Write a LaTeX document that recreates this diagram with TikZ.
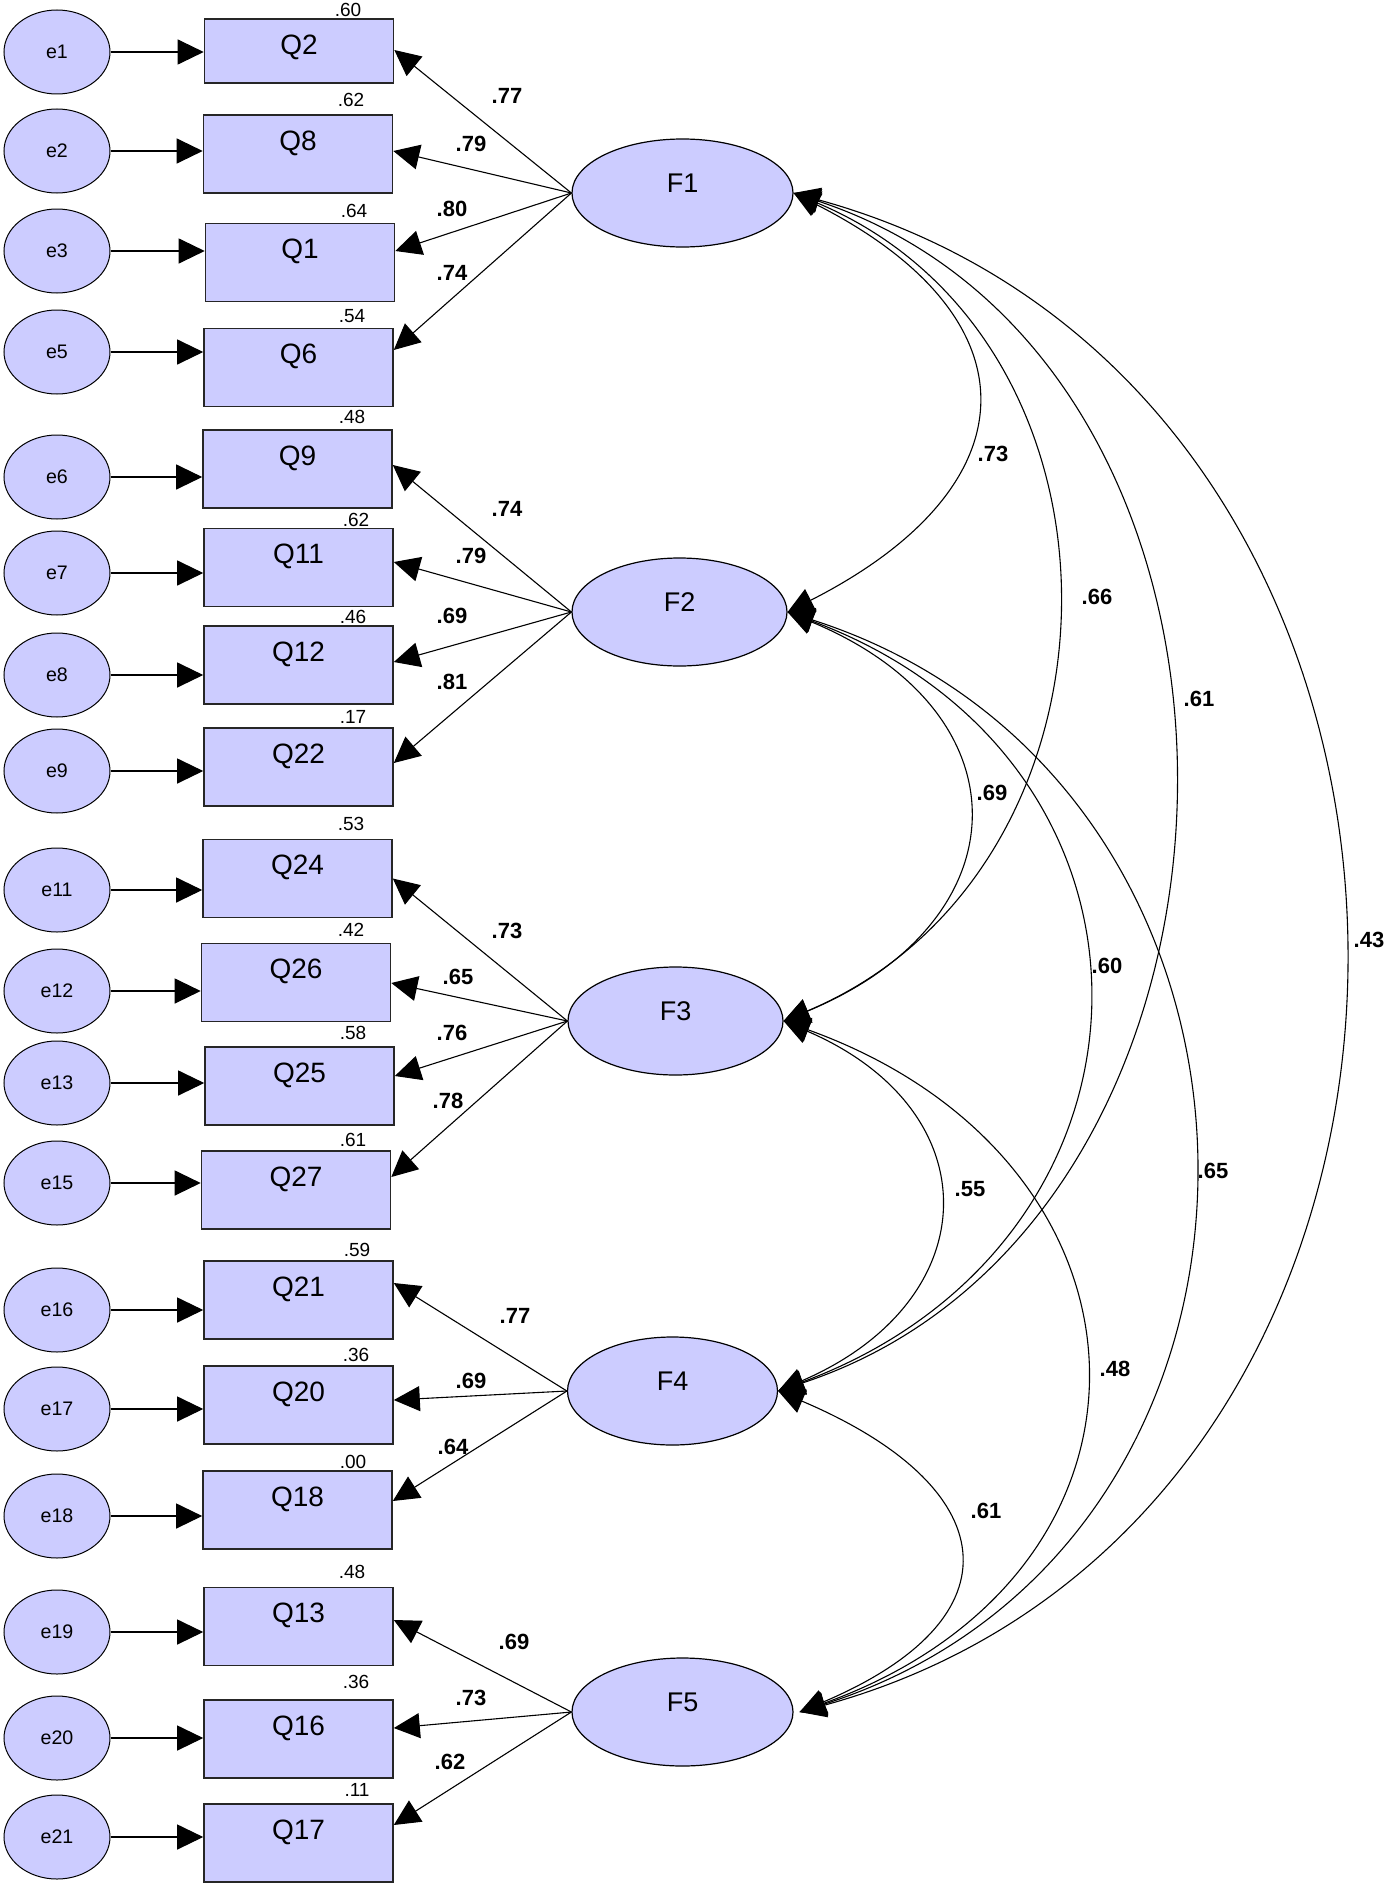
\documentclass[tikz,border=0pt]{standalone}
\usepackage{fontspec}
\setmainfont{Liberation Sans}
\usetikzlibrary{shapes.geometric,arrows.meta}
\definecolor{lav}{RGB}{204,204,255}
\begin{document}
\begin{tikzpicture}[x=0.5pt,y=-0.5pt,
  qbox/.style={draw=black!85,line width=0.8pt,fill=lav,minimum width=94.5pt,minimum height=39pt,inner sep=0pt},
  qtext/.style={font=\fontsize{14}{14}\selectfont,inner sep=0pt},
  errell/.style={ellipse,draw,line width=0.5pt,fill=lav,minimum width=53pt,minimum height=42pt,inner sep=0pt,font=\fontsize{9.8}{10}\selectfont},
  fell/.style={ellipse,draw,line width=0.6pt,fill=lav,minimum height=54pt,inner sep=0pt},
  ftext/.style={font=\fontsize{13.5}{14}\selectfont,inner sep=0pt},
  rsq/.style={font=\fontsize{9.5}{10}\selectfont,inner sep=0pt},
  coef/.style={font=\bfseries\fontsize{11}{11}\selectfont,inner sep=0pt},
  arr/.style={line width=0.55pt,-{Triangle[length=13pt,width=12.5pt]}},
  cov/.style={line width=0.55pt,{Triangle[length=13pt,width=12.5pt]}-{Triangle[length=13pt,width=12.5pt]}}
]
\useasboundingbox (0,0) rectangle (1392,1884);

% observed variables
\node[qbox,minimum height=32pt] (Q2) at (299,51) {};
\node[qbox] (Q8)  at (298,154) {};
\node[qbox] (Q1)  at (300,262.5) {};
\node[qbox] (Q6)  at (298.5,367.5) {};
\node[qbox] (Q9)  at (297.5,469) {};
\node[qbox] (Q11) at (298.5,567.5) {};
\node[qbox] (Q12) at (298.5,665) {};
\node[qbox] (Q22) at (298.5,767) {};
\node[qbox] (Q24) at (297.5,878.5) {};
\node[qbox] (Q26) at (296,982.5) {};
\node[qbox] (Q25) at (299.5,1086) {};
\node[qbox] (Q27) at (296,1190) {};
\node[qbox] (Q21) at (298.5,1300) {};
\node[qbox] (Q20) at (298.5,1405) {};
\node[qbox] (Q18) at (297.5,1510) {};
\node[qbox] (Q13) at (298.5,1626.5) {};
\node[qbox] (Q16) at (298.5,1739) {};
\node[qbox] (Q17) at (298.5,1843) {};

\foreach \q in {Q2,Q8,Q1,Q6,Q9,Q11,Q12,Q22,Q24,Q26,Q25,Q27,Q21,Q20,Q18,Q13,Q16,Q17}
  \node[qtext] (\q t) at ([yshift=-14.5pt]\q.north) {\q};

% squared multiple correlations
\node[rsq] (r2)  at (348,10) {.60};
\node[rsq] (r8)  at (351,100) {.62};
\node[rsq] (r1)  at (354,211) {.64};
\node[rsq] (r6)  at (352,316) {.54};
\node[rsq] (r9)  at (352,417) {.48};
\node[rsq] (r11) at (356,520) {.62};
\node[rsq] (r12) at (353,617) {.46};
\node[rsq] (r22) at (353,717) {.17};
\node[rsq] (r24) at (351,824) {.53};
\node[rsq] (r26) at (351,930) {.42};
\node[rsq] (r25) at (353,1033) {.58};
\node[rsq] (r27) at (353,1140) {.61};
\node[rsq] (r21) at (357,1250) {.59};
\node[rsq] (r20) at (356,1355) {.36};
\node[rsq] (r18) at (353,1462) {.00};
\node[rsq] (r13) at (352,1572) {.48};
\node[rsq] (r16) at (356,1682) {.36};
\node[rsq] (r17) at (357,1790) {.11};

% error terms
\node[errell] (e1)  at (57,52) {e1};
\node[errell] (e2)  at (57,151) {e2};
\node[errell] (e3)  at (57,251) {e3};
\node[errell] (e5)  at (57,352) {e5};
\node[errell] (e6)  at (57,477) {e6};
\node[errell] (e7)  at (57,573) {e7};
\node[errell] (e8)  at (57,675) {e8};
\node[errell] (e9)  at (57,771) {e9};
\node[errell] (e11) at (57,890) {e11};
\node[errell] (e12) at (57,991) {e12};
\node[errell] (e13) at (57,1083) {e13};
\node[errell] (e15) at (57,1183) {e15};
\node[errell] (e16) at (57,1310) {e16};
\node[errell] (e17) at (57,1409) {e17};
\node[errell] (e18) at (57,1516) {e18};
\node[errell] (e19) at (57,1632) {e19};
\node[errell] (e20) at (57,1738) {e20};
\node[errell] (e21) at (57,1837) {e21};

\foreach \e/\q in {e1/Q2,e2/Q8,e3/Q1,e5/Q6,e6/Q9,e7/Q11,e8/Q12,e9/Q22,e11/Q24,e12/Q26,e13/Q25,e15/Q27,e16/Q21,e17/Q20,e18/Q18,e19/Q13,e20/Q16,e21/Q17}
  \draw[arr] (\e) -- (\e -| \q.west);

% factors
\node[fell,minimum width=110.5pt] (F1) at (682.5,193) {};
\node[fell,minimum width=107.5pt] (F2) at (679.5,612) {};
\node[fell,minimum width=107.5pt] (F3) at (675.5,1021) {};
\node[fell,minimum width=105pt]   (F4) at (672.5,1391) {};
\node[fell,minimum width=110.5pt] (F5) at (682.5,1712) {};
\foreach \f in {F1,F2,F3,F4,F5}
  \node[ftext] (\f t) at ([yshift=5pt]\f.center) {\f};

% loadings
\draw[arr] (F1.west) -- ([yshift=0.5pt]Q2.east);
\draw[arr] (F1.west) -- ([yshift=1.5pt]Q8.east);
\draw[arr] (F1.west) -- ([yshift=5.75pt]Q1.east);
\draw[arr] (F1.west) -- ([yshift=8.75pt]Q6.east);
\draw[arr] (F2.west) -- ([yshift=2pt]Q9.east);
\draw[arr] (F2.west) -- ([yshift=2.75pt]Q11.east);
\draw[arr] (F2.west) -- ([yshift=1.5pt]Q12.east);
\draw[arr] (F2.west) -- ([yshift=2pt]Q22.east);
\draw[arr] (F3.west) -- (Q24.east);
\draw[arr] (F3.west) -- ([yshift=-0.25pt]Q26.east);
\draw[arr] (F3.west) -- ([yshift=5pt]Q25.east);
\draw[arr] (F3.west) -- ([yshift=6.5pt]Q27.east);
\draw[arr] (F4.west) -- ([yshift=8.5pt]Q21.east);
\draw[arr] (F4.west) -- ([yshift=2.5pt]Q20.east);
\draw[arr] (F4.west) -- ([yshift=4.5pt]Q18.east);
\draw[arr] (F5.west) -- ([yshift=3.25pt]Q13.east);
\draw[arr] (F5.west) -- ([yshift=5.5pt]Q16.east);
\draw[arr] (F5.west) -- ([yshift=9pt]Q17.east);

\node[coef] (l2)  at (507,96) {.77};
\node[coef] (l8)  at (471,144) {.79};
\node[coef] (l1)  at (452,209) {.80};
\node[coef] (l6)  at (452,273) {.74};
\node[coef] (l9)  at (507,509) {.74};
\node[coef] (l11) at (471,556) {.79};
\node[coef] (l12) at (452,616) {.69};
\node[coef] (l22) at (452,682) {.81};
\node[coef] (l24) at (507,931) {.73};
\node[coef] (l26) at (458,977) {.65};
\node[coef] (l25) at (452,1033) {.76};
\node[coef] (l27) at (448,1101) {.78};
\node[coef] (l21) at (515,1316) {.77};
\node[coef] (l20) at (471,1381) {.69};
\node[coef] (l18) at (453,1447) {.64};
\node[coef] (l13) at (514,1642) {.69};
\node[coef] (l16) at (471,1698) {.73};
\node[coef] (l17) at (450,1762) {.62};

% covariances
\draw[cov] (F1.east) .. controls +(246,125) and +(246,-125) .. (F2.east);
\draw[cov] (F1.east) .. controls +(356,150) and +(356,-150) .. (F3.east);
\draw[cov] (F1.east) .. controls +(514,170) and +(514,-170) .. (F4.east);
\draw[cov] (F1.east) .. controls +(727,200) and +(727,-200) .. ([xshift=3pt]F5.east);
\draw[cov] (F2.east) .. controls +(241,100) and +(241,-100) .. (F3.east);
\draw[cov] (F2.east) .. controls +(404,150) and +(404,-150) .. (F4.east);
\draw[cov] (F2.east) .. controls +(531,170) and +(531,-170) .. ([xshift=3pt]F5.east);
\draw[cov] (F3.east) .. controls +(209,90) and +(209,-90) .. (F4.east);
\draw[cov] (F3.east) .. controls +(389,140) and +(389,-140) .. ([xshift=3pt]F5.east);
\draw[cov] (F4.east) .. controls +(224,95) and +(224,-95) .. ([xshift=3pt]F5.east);

\node[coef] (c12) at (993,454) {.73};
\node[coef] (c13) at (1097,597) {.66};
\node[coef] (c14) at (1199,699) {.61};
\node[coef] (c15) at (1369,940) {.43};
\node[coef] (c23) at (992,793) {.69};
\node[coef] (c24) at (1107,966) {.60};
\node[coef] (c25) at (1213,1171) {.65};
\node[coef] (c34) at (970,1189) {.55};
\node[coef] (c35) at (1115,1369) {.48};
\node[coef] (c45) at (986,1511) {.61};
\end{tikzpicture}
\end{document}
